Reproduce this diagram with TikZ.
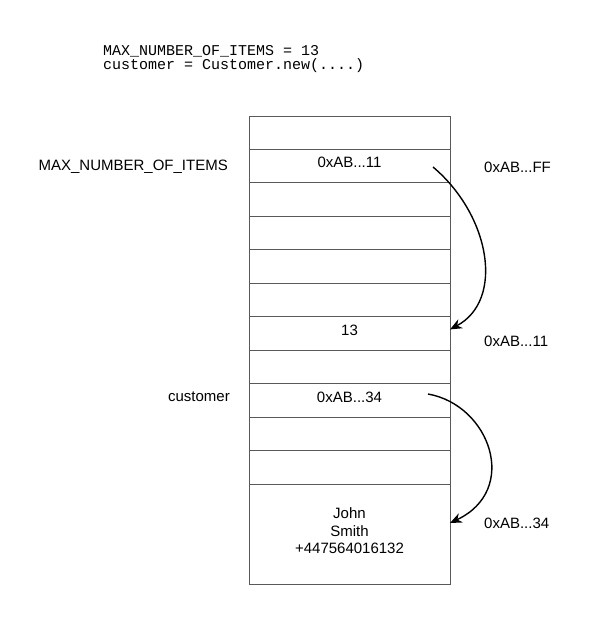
\documentclass[tikz,border=0pt]{standalone}
\usepackage{fontspec}
\setmainfont{Liberation Sans}
\newfontfamily\codefont{Liberation Mono}
\usetikzlibrary{arrows.meta}
\begin{document}
\begin{tikzpicture}[x=1pt,y=-1pt,
  cell/.style={draw=black!65, line width=0.9pt, minimum width=201pt, minimum height=33.45pt, inner sep=0pt, outer sep=0pt},
  celltext/.style={font=\fontsize{15}{17}\selectfont, inner sep=0pt},
  lbl/.style={font=\fontsize{15}{17}\selectfont, inner sep=0pt},
  ptr/.style={line width=1.4pt, -{Stealth[length=12pt,width=10pt]}}]
\useasboundingbox (0,0) rectangle (600,618);
% code
\node[anchor=north west, inner sep=0pt, align=left, font=\codefont\fontsize{15}{13.8}\selectfont] (code) at (103,45)
  {MAX\_NUMBER\_OF\_ITEMS = 13\\customer = Customer.new(....)};
% memory cells
\foreach \i in {1,...,11}{
  \node[cell] (r\i) at (349.5, {116+33.45*(\i-0.5)}) {};
}
\node[cell, minimum height=100pt] (r12) at (349.5,534) {};
% cell contents
\node[celltext] (v2) at ([yshift=4]r2.center) {0xAB...11};
\node[celltext] (v7) at ([yshift=3]r7.center) {13};
\node[celltext] (v9) at ([yshift=3]r9.center) {0xAB...34};
\node[celltext, align=center, font=\fontsize{15}{17.5}\selectfont] (v12) at ([yshift=3]r12.center) {John\\Smith\\+447564016132};
% left labels
\node[lbl, anchor=east] (lmax) at (228,167) {MAX\_NUMBER\_OF\_ITEMS};
\node[lbl, anchor=east] (lcust) at (230,397) {customer};
% right labels
\node[lbl, anchor=west] (aff) at (484,167) {0xAB...FF};
\node[lbl, anchor=west] (a11) at (484,341) {0xAB...11};
\node[lbl, anchor=west] (a34) at (484,523) {0xAB...34};
% pointer arrows
\coordinate (p1s) at (433,167);
\coordinate (p2s) at (428,394);
\draw[ptr] (p1s) .. controls (490,215) and (505,300) .. ([yshift=4]r7.east);
\draw[ptr] (p2s) .. controls (490,405) and (520,490) .. ([yshift=11]r12.east);
\end{tikzpicture}
\end{document}
